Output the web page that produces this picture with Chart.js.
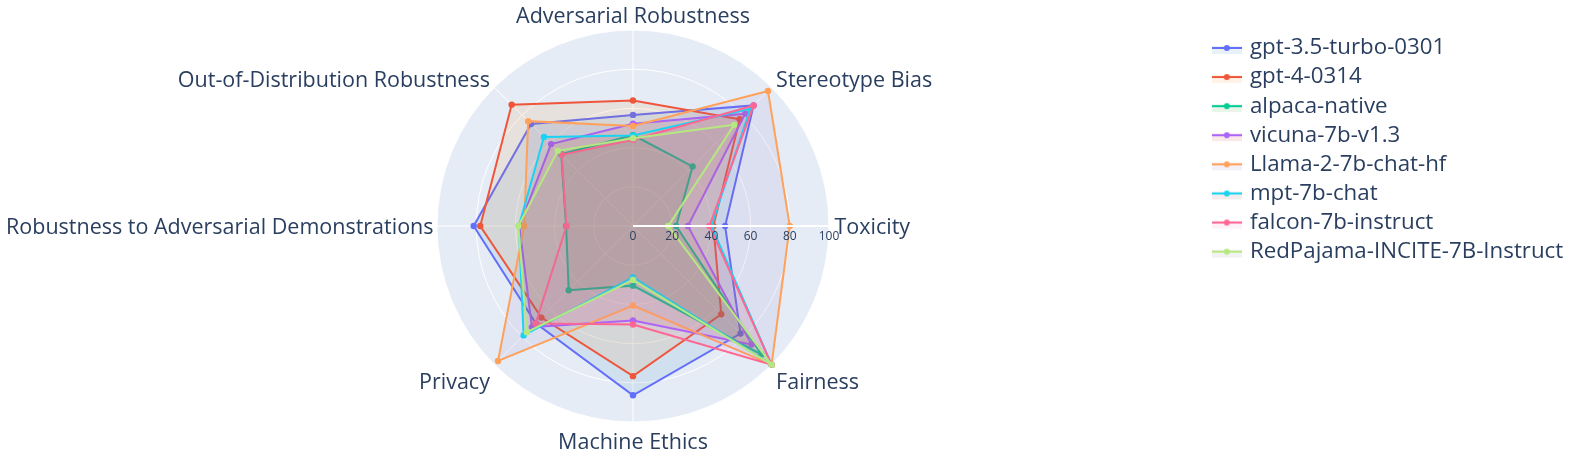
<!DOCTYPE html>
<html>
<head>
<meta charset="utf-8">
<script src="https://cdn.jsdelivr.net/npm/chart.js@4/dist/chart.umd.min.js"></script>
<style>
  html, body { margin: 0; padding: 0; background: #ffffff; }
  canvas { display: block; }
</style>
</head>
<body>
<canvas id="c" width="1582" height="457"></canvas>
<script>
// ---- data (clockwise from top, as Chart.js lays out the spokes) ----
const categories = [
  'Adversarial Robustness',
  'Stereotype Bias',
  'Toxicity',
  'Fairness',
  'Machine Ethics',
  'Privacy',
  'Robustness to Adversarial Demonstrations',
  'Out-of-Distribution Robustness'
];
const seriesNames = [
  'gpt-3.5-turbo-0301',
  'gpt-4-0314',
  'alpaca-native',
  'vicuna-7b-v1.3',
  'Llama-2-7b-chat-hf',
  'mpt-7b-chat',
  'falcon-7b-instruct',
  'RedPajama-INCITE-7B-Instruct'
];
const gpt35     = [56.69, 87.00, 47.00, 77.57, 86.38, 70.13, 81.28, 73.58];
const gpt4      = [64.04, 77.00, 41.00, 63.67, 76.60, 66.11, 77.94, 87.55];
const alpaca    = [46.43, 43.00, 22.00, 92.63, 30.43, 46.39, 34.15, 51.79];
const vicuna    = [52.16, 81.00, 28.00, 85.53, 48.22, 72.96, 57.99, 59.10];
const llama2    = [51.01, 97.39, 80.00, 100.0, 40.58, 97.39, 55.54, 75.65];
const mpt       = [46.20, 84.60, 40.00, 100.0, 26.11, 78.93, 58.25, 64.26];
const falcon    = [43.98, 87.00, 39.00, 100.0, 50.28, 70.26, 33.95, 51.45];
const redpajama = [44.81, 73.00, 18.00, 100.0, 27.49, 76.64, 58.51, 54.21];
const seriesValues = [gpt35, gpt4, alpaca, vicuna, llama2, mpt, falcon, redpajama];

const tickValues = [0, 20, 40, 60, 80, 100];
const tickLabels = ['0', '20', '40', '60', '80', '100'];
const radialAxisCategory = 'Toxicity';

// ---- styles ----
const lineColors = ['#636efa', '#EF553B', '#00cc96', '#ab63fa', '#FFA15A', '#19d3f3', '#FF6692', '#B6E880'];
const fillColors = ['rgba(31,119,180,0.1)', 'rgba(255,127,14,0.1)', 'rgba(44,160,44,0.1)', 'rgba(214,39,40,0.1)',
                    'rgba(148,103,189,0.1)', 'rgba(140,86,75,0.1)', 'rgba(227,119,194,0.1)', 'rgba(127,127,127,0.1)'];
const FAMILY = '"Open Sans", "DejaVu Sans", sans-serif';
const TEXT = '#2a3f5f';
const LABEL_FS = 21.5;
const LEGEND_FS = 22.3;
const TICK_FS = 12;
const CAP = 0.714;

// legend swatches (line + marker + fill strip)
function makeSwatch(line, fill) {
  const c = document.createElement('canvas');
  c.width = 30; c.height = 20;
  const g = c.getContext('2d');
  g.fillStyle = fill;
  g.fillRect(0, 8, 30, 8);
  g.strokeStyle = line; g.lineWidth = 2;
  g.beginPath(); g.moveTo(0, 10); g.lineTo(30, 10); g.stroke();
  g.fillStyle = line;
  g.beginPath(); g.arc(15, 10, 3, 0, Math.PI * 2); g.fill();
  return c;
}
const swatches = lineColors.map((c, i) => makeSwatch(c, fillColors[i]));

// legend geometry
const LEG_PAD = 6.8;
const LEG_BOXW = 24;
const LEG_X = 1218;                   // left of legend item box
const legendLeft = LEG_X - LEG_PAD;
const mctx = document.createElement('canvas').getContext('2d');
mctx.font = `${LEGEND_FS}px ${FAMILY}`;
const maxTW = Math.max(...seriesNames.map(n => mctx.measureText(n).width));
const legendW = 2 * LEG_PAD + LEG_BOXW + LEGEND_FS / 2 + maxTW;
const padRight = Math.max(0, 1582 - legendLeft - legendW);
const centerX = 634.5;
const padLeft = Math.round(2 * centerX - legendLeft);

const polarDecor = {
  id: 'polarDecor',
  afterDatasetsDraw(chart) {
    const s = chart.scales.r;
    const ctx = chart.ctx;
    const idx = categories.indexOf(radialAxisCategory);
    const end = s.getPointPosition(idx, s.getDistanceFromCenterForValue(100));
    ctx.save();
    ctx.strokeStyle = '#ffffff';
    ctx.lineWidth = 2;
    ctx.beginPath();
    ctx.moveTo(s.xCenter, s.yCenter);
    ctx.lineTo(end.x, end.y);
    ctx.stroke();
    ctx.fillStyle = TEXT;
    ctx.font = `${TICK_FS}px ${FAMILY}`;
    ctx.textAlign = 'center';
    ctx.textBaseline = 'middle';
    tickValues.forEach((v, i) => {
      const p = s.getPointPosition(idx, s.getDistanceFromCenterForValue(v));
      ctx.fillText(tickLabels[i], p.x, p.y + 11);
    });
    ctx.restore();
  },
  afterDraw(chart) {
    const s = chart.scales.r;
    const ctx = chart.ctx;
    const r = s.drawingArea;
    ctx.save();
    ctx.font = `${LABEL_FS}px ${FAMILY}`;
    ctx.fillStyle = TEXT;
    ctx.textBaseline = 'alphabetic';
    categories.forEach((lab, i) => {
      const p = s.getPointPosition(i, r);
      const dx = (p.x - s.xCenter) / r, dy = (p.y - s.yCenter) / r;
      let align = 'center', xo = 0, yo;
      if (dx > 0.3) align = 'left';
      else if (dx < -0.3) align = 'right';
      if (dx > 0.9) xo = 5.5;
      else if (dx < -0.9) xo = -3.5;
      else if (Math.abs(dx) > 0.3) xo = 4.5 * Math.sign(dx);
      if (dy < -0.9) yo = -14.5;
      else if (dy < -0.3) yo = -7.7;
      else if (dy > 0.9) yo = 19;
      else if (dy > 0.3) yo = 16.4;
      else yo = 0.5;
      ctx.textAlign = align;
      ctx.fillText(lab, p.x + xo, p.y + yo + CAP * LABEL_FS / 2);
    });
    ctx.restore();
  }
};

Chart.defaults.font.family = FAMILY;
Chart.defaults.color = TEXT;

new Chart(document.getElementById('c'), {
  type: 'radar',
  data: {
    labels: categories,
    datasets: seriesNames.map((name, i) => ({
      label: name,
      data: seriesValues[i],
      borderColor: lineColors[i],
      backgroundColor: fillColors[i],
      pointBackgroundColor: lineColors[i],
      pointBorderColor: lineColors[i],
      pointBorderWidth: 0,
      pointRadius: 3.2,
      borderWidth: 2,
      fill: true,
      order: seriesNames.length - i
    }))
  },
  options: {
    responsive: false,
    animation: false,
    devicePixelRatio: 1,
    events: [],
    layout: { padding: { left: padLeft, right: padRight, top: 30, bottom: 35 } },
    scales: {
      r: {
        min: 0,
        max: 100,
        startAngle: 0,
        backgroundColor: '#E5ECF6',
        grid: { color: '#ffffff', lineWidth: 1, circular: true },
        angleLines: { color: '#ffffff', lineWidth: 1 },
        ticks: { display: false, stepSize: 20 },
        pointLabels: { display: false }
      }
    },
    plugins: {
      tooltip: { enabled: false },
      legend: {
        position: 'right',
        align: 'start',
        labels: {
          usePointStyle: true,
          pointStyleWidth: LEG_BOXW,
          padding: LEG_PAD,
          color: TEXT,
          font: { family: FAMILY, size: LEGEND_FS },
          sort: (a, b) => a.datasetIndex - b.datasetIndex,
          generateLabels(chart) {
            const items = Chart.defaults.plugins.legend.labels.generateLabels(chart);
            items.forEach(it => { it.pointStyle = swatches[it.datasetIndex]; it.lineWidth = 0; });
            return items;
          }
        }
      }
    }
  },
  plugins: [polarDecor]
});
</script>
</body>
</html>
